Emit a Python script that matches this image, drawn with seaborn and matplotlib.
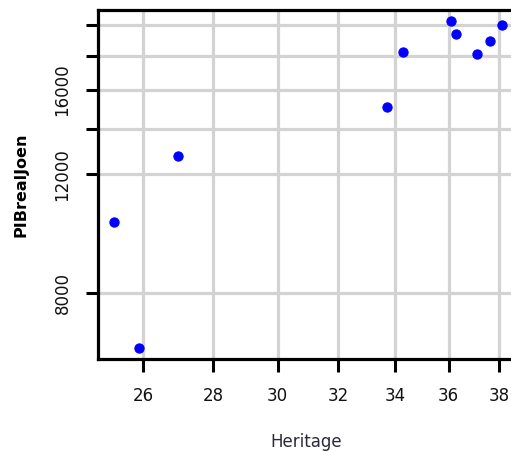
import numpy as np
import pandas as pd
import matplotlib
matplotlib.use("Agg")
import matplotlib.pyplot as plt
import seaborn as sns
from matplotlib.ticker import FixedLocator, FixedFormatter, NullLocator

# =========================
# DATA
# =========================
heritage = [25.20, 25.88, 26.98, 33.72, 34.30, 36.09, 36.28, 37.12, 37.61, 38.10]
pib_real = [10190, 6630, 12760, 15110, 18240, 20290, 19390, 18110, 18950, 20000]

x_ticks = [26, 28, 30, 32, 34, 36, 38]
x_tick_labels = ["26", "28", "30", "32", "34", "36", "38"]
y_ticks = [8000, 12000, 14000, 16000, 18000, 20000]
y_tick_labels = ["8000", "12000", "", "16000", "", ""]

df = pd.DataFrame({"Heritage": heritage, "PIBrealJoen": pib_real})

# =========================
# PLOT
# =========================
sns.set_style("white")
plt.rcParams["font.family"] = ["DejaVu Sans"]

fig = plt.figure(figsize=(5.11, 4.51), dpi=100)
ax = fig.add_axes([98 / 511, 92 / 451, 416 / 511, 349 / 451])

ax.set_xscale("log")
ax.set_yscale("log")
ax.set_xlim(24.77, 38.60)
ax.set_ylim(6375, 21050)

# grid at the tick positions
for xv in x_ticks:
    ax.axvline(xv, color="#d3d3d3", lw=2.3, zorder=0)
for yv in y_ticks:
    ax.axhline(yv, color="#d3d3d3", lw=2.3, zorder=0)

sns.scatterplot(data=df, x="Heritage", y="PIBrealJoen", ax=ax,
                color="#0000ff", edgecolor="#0000ff", s=44, linewidth=0.8, zorder=3)

ax.xaxis.set_major_locator(FixedLocator(x_ticks))
ax.xaxis.set_major_formatter(FixedFormatter(x_tick_labels))
ax.yaxis.set_major_locator(FixedLocator(y_ticks))
ax.yaxis.set_major_formatter(FixedFormatter(y_tick_labels))
ax.xaxis.set_minor_locator(NullLocator())
ax.yaxis.set_minor_locator(NullLocator())

ax.tick_params(axis="both", direction="out", length=9, width=2.2, color="black",
               labelsize=12, labelcolor="#111111", bottom=True, left=True)
ax.tick_params(axis="x", pad=11)
ax.tick_params(axis="y", pad=10)
for lab in ax.get_yticklabels():
    lab.set_rotation(90)
    lab.set_va("center")

for side in ["left", "bottom", "top"]:
    ax.spines[side].set_visible(True)
    ax.spines[side].set_color("black")
    ax.spines[side].set_linewidth(2.3)
ax.spines["right"].set_visible(False)

ax.set_xlabel("Heritage", fontsize=12, color="#2a2a3a", labelpad=20)
ax.set_ylabel("PIBrealJoen", fontsize=11.5, fontweight="bold", color="black", labelpad=18)

fig.savefig("out.png", dpi=100)
